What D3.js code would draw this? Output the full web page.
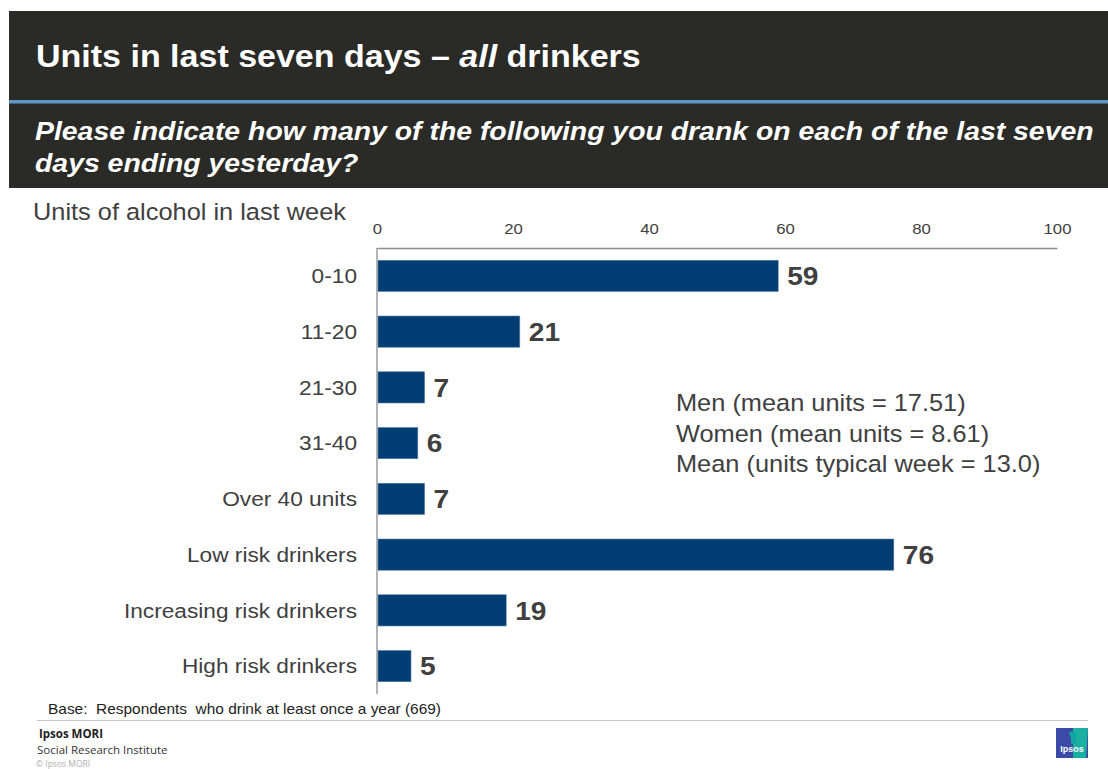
<!DOCTYPE html>
<html>
<head>
<meta charset="utf-8">
<script src="https://cdn.jsdelivr.net/npm/d3@7"></script>
<style>
  html, body { margin: 0; padding: 0; background: #fff; }
  svg { display: block; font-family: "Liberation Sans", Arial, sans-serif; }
</style>
</head>
<body>
<svg id="chart" width="1108" height="769"></svg>
<script>
// Share of drinkers by units consumed in the last seven days
const categories = ["0-10", "11-20", "21-30", "31-40", "Over 40 units",
  "Low risk drinkers", "Increasing risk drinkers", "High risk drinkers"];
const values = [59, 21, 7, 6, 7, 76, 19, 5];
const tickValues = [0, 20, 40, 60, 80, 100];
const notes = ["Men (mean units = 17.51)", "Women (mean units = 8.61)",
  "Mean (units typical week = 13.0)"];

const svg = d3.select("#chart");
const textCol = "#404040";
const SX = 1.08; // slide text is set slightly wide

// place a text node at (x, y) with the slide's horizontal stretch
function wideText(parent, x, y) {
  return parent.append("text").attr("transform", `translate(${x},${y}) scale(${SX},1)`);
}

// Header band
svg.append("rect").attr("x", 9).attr("y", 11).attr("width", 1099).attr("height", 177)
  .attr("fill", "#2a2a27");
svg.append("rect").attr("x", 9).attr("y", 100).attr("width", 1099).attr("height", 3.5)
  .attr("fill", "#5f98c8");

const title = wideText(svg, 36, 67).attr("fill", "#fff")
  .attr("font-size", 31.5).attr("font-weight", "bold");
title.append("tspan").text("Units in last seven days \u2013 ");
title.append("tspan").attr("font-style", "italic").text("all");
title.append("tspan").text(" drinkers");

wideText(svg, 35, 140).attr("fill", "#fff")
  .attr("font-size", 26.3).attr("font-weight", "bold").attr("font-style", "italic")
  .text("Please indicate how many of the following you drank on each of the last seven");
wideText(svg, 35, 172).attr("fill", "#fff")
  .attr("font-size", 26.3).attr("font-weight", "bold").attr("font-style", "italic")
  .text("days ending yesterday?");

wideText(svg, 33, 220).attr("fill", textCol)
  .attr("font-size", 23.5).text("Units of alcohol in last week");

// Scales
const x = d3.scaleLinear().domain([0, 100]).range([377, 1057]);
const y = d3.scaleBand().domain(categories).range([248, 694]).paddingInner(0.44).paddingOuter(0.22);

// Top axis
const axis = svg.append("g").attr("transform", "translate(0,248)")
  .call(d3.axisTop(x).tickValues(tickValues).tickSize(0).tickPadding(14));
axis.select(".domain").attr("stroke", "#8c8c8c").attr("stroke-width", 1.3);
axis.selectAll(".tick text").attr("fill", textCol).attr("font-size", 15.5)
  .attr("font-family", "Liberation Sans, Arial, sans-serif")
  .attr("transform", `scale(${SX},1)`);

// Vertical baseline
svg.append("line").attr("x1", x(0)).attr("x2", x(0)).attr("y1", 248).attr("y2", 694)
  .attr("stroke", "#8c8c8c").attr("stroke-width", 1.3);

// Category labels
svg.append("g").selectAll("text").data(categories).join("text")
  .attr("transform", d => `translate(357,${y(d) + y.bandwidth() / 2}) scale(${SX},1)`)
  .attr("dy", "0.35em").attr("text-anchor", "end")
  .attr("fill", textCol).attr("font-size", 21).text(d => d);

// Bars
svg.append("g").selectAll("rect").data(values).join("rect")
  .attr("x", x(0) + 1).attr("y", (d, i) => y(categories[i]))
  .attr("width", d => x(d) - x(0) - 1).attr("height", y.bandwidth())
  .attr("fill", "#023e73").attr("stroke", "#5a7fa8").attr("stroke-width", 0.6);

// Value labels
svg.append("g").selectAll("text").data(values).join("text")
  .attr("transform", (d, i) => `translate(${x(d) + 9},${y(categories[i]) + y.bandwidth() / 2}) scale(${SX},1)`)
  .attr("dy", "0.36em").attr("fill", textCol).attr("font-size", 26)
  .attr("font-weight", "bold").text(d => d);

// Mean notes
svg.append("g").selectAll("text").data(notes).join("text")
  .attr("transform", (d, i) => `translate(676,${411 + i * 30.5}) scale(${SX},1)`)
  .attr("fill", textCol).attr("font-size", 23.5).text(d => d);

// Footer
wideText(svg, 48, 714).attr("fill", "#222").attr("font-size", 14.3)
  .style("white-space", "pre").attr("xml:space", "preserve")
  .text("Base:  Respondents  who drink at least once a year (669)");
svg.append("line").attr("x1", 37).attr("x2", 1088).attr("y1", 720.5).attr("y2", 720.5)
  .attr("stroke", "#c8c8c8").attr("stroke-width", 1);
svg.append("text").attr("x", 39).attr("y", 738).attr("fill", "#222")
  .attr("font-size", 11.5).attr("font-weight", "bold")
  .attr("font-family", "Open Sans, sans-serif").text("Ipsos MORI");
svg.append("text").attr("x", 37).attr("y", 754).attr("fill", "#333")
  .attr("font-size", 11.5).attr("font-family", "Open Sans, sans-serif").text("Social Research Institute");
svg.append("text").attr("x", 36).attr("y", 767).attr("fill", "#b0b0b0")
  .attr("font-size", 8.5).attr("font-family", "Open Sans, sans-serif").text("\u00a9 Ipsos MORI");

// Logo
const logo = svg.append("g").attr("transform", "translate(1056,728)");
logo.append("rect").attr("width", 32).attr("height", 30).attr("fill", "#3a4aa6");
logo.append("path").attr("d", "M17,0 L32,0 L30,30 L17,30 Z").attr("fill", "#1ab0a0");
logo.append("path").attr("d", "M13,4 C18,2 22,6 20,11 L20,16 L15,16 L15,11 Z").attr("fill", "#10a5a0");
logo.append("text").attr("x", 16).attr("y", 24).attr("text-anchor", "middle")
  .attr("fill", "#fff").attr("font-size", 9).attr("font-weight", "bold").text("Ipsos");
</script>
</body>
</html>
